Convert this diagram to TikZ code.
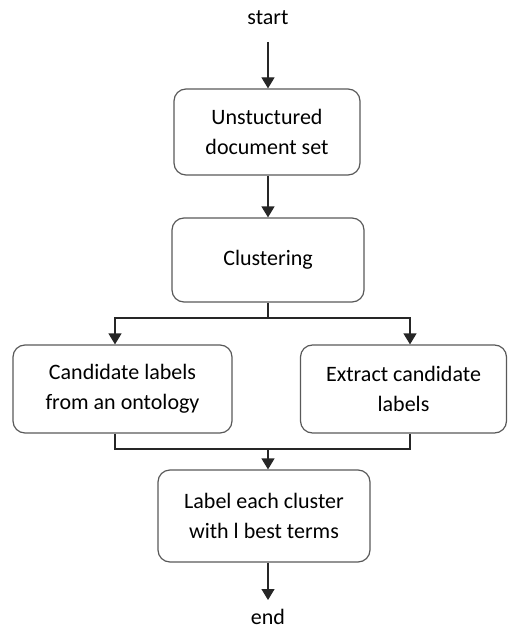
\documentclass[tikz,border=0pt]{standalone}
\usepackage{fontspec}
\setmainfont{Carlito}
\usetikzlibrary{arrows.meta}
\begin{document}
\begin{tikzpicture}[x=1pt,y=-1pt,
  box/.style={draw=black!65, line width=1.2pt, rounded corners=12pt, align=center,
    inner sep=0pt, font=\fontsize{22}{30}\selectfont},
  term/.style={inner sep=0pt, font=\fontsize{22}{30}\selectfont},
  link/.style={draw=black!85, line width=1.2pt},
  arr/.style={link, -{Triangle[width=13pt,length=11pt]}}]
\useasboundingbox (0,0) rectangle (507,631);

% terminals
\node[term] (start) at (268,18) {start};
\node[term] (end) at (268,617) {end};

% process boxes
\node[box, minimum width=186pt, minimum height=86pt] (doc) at (267,132) {Unstuctured\\document set};
\node[box, minimum width=192pt, minimum height=84pt] (clu) at (268,260) {Clustering};
\node[box, minimum width=219pt, minimum height=88pt] (ont) at (122.5,389) {Candidate labels\\from an ontology};
\node[box, minimum width=206pt, minimum height=88pt] (ext) at (403.5,389) {Extract candidate\\labels};
\node[box, minimum width=212pt, minimum height=92pt] (lab) at (264,516) {Label each cluster\\with l best terms};

% connector points
\coordinate (s0) at (268,42);
\coordinate (e0) at (268,600);
\coordinate (split) at (268,318);
\coordinate (merge) at (268,449);
\coordinate (ontx) at (115,0);
\coordinate (extx) at (410,0);

% connectors
\draw[arr] (s0) -- (s0 |- doc.north);
\draw[arr] (doc.south -| s0) -- (clu.north -| s0);
\draw[link] (clu.south -| split) -- (split);
\draw[arr] (split) -| (ontx |- ont.north);
\draw[arr] (split) -| (extx |- ext.north);
\draw[link] (ontx |- ont.south) |- (merge);
\draw[link] (extx |- ext.south) |- (merge);
\draw[arr] (merge) -- (merge |- lab.north);
\draw[arr] (lab.south -| e0) -- (e0);
\end{tikzpicture}
\end{document}
